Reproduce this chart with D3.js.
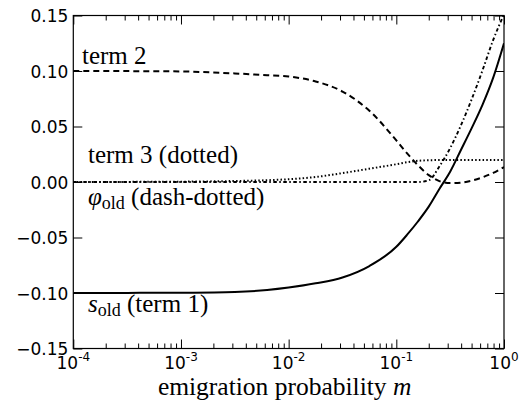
<!DOCTYPE html>
<html>
<head>
<meta charset="utf-8">
<script src="https://cdn.jsdelivr.net/npm/d3@7"></script>
<style>
  body { margin: 0; background: #fff; }
  svg { display: block; }
</style>
</head>
<body>
<svg id="chart" width="521" height="408"></svg>
<script>
// Emigration probability m (log-spaced sample points)
const mValues = [0.0001, 0.000316, 0.001, 0.00316, 0.00631, 0.01, 0.0178, 0.0316, 0.0562, 0.1,
                 0.126, 0.158, 0.2, 0.251, 0.316, 0.398, 0.501, 0.631, 0.794, 1];
// s_old (term 1), solid
const sOld   = [-0.1000, -0.0999, -0.0997, -0.0990, -0.0973, -0.0951, -0.0913, -0.0860, -0.0757, -0.0584,
                -0.0475, -0.0358, -0.0222, -0.0063, 0.0092, 0.0288, 0.0485, 0.0695, 0.0940, 0.1250];
// term 2, dashed
const term2  = [0.1000, 0.0999, 0.0996, 0.0978, 0.0962, 0.0950, 0.0906, 0.0815, 0.0642, 0.0375,
                0.0258, 0.0153, 0.0062, 0.0008, -0.0010, -0.0006, 0.0012, 0.0042, 0.0082, 0.0135];
// term 3, dotted
const term3  = [0.0000, 0.0001, 0.0003, 0.0009, 0.0016, 0.0025, 0.0045, 0.0080, 0.0120, 0.0160,
                0.0178, 0.0191, 0.0196, 0.0198, 0.0198, 0.0198, 0.0198, 0.0198, 0.0198, 0.0198];
// phi_old, dash-dotted
const phiOld = [0, 0, 0, 0, 0, 0, 0, 0, 0, 0,
                0, 0, 0.0015, 0.0140, 0.0305, 0.0510, 0.0745, 0.1005, 0.1280, 0.1510];

const yTicks = [-0.15, -0.10, -0.05, 0.00, 0.05, 0.10, 0.15];
const xTickExponents = [-4, -3, -2, -1, 0];

const W = 521, H = 408;
const margin = { left: 73.3, right: 17, top: 15.5, bottom: 59.5 };
const svg = d3.select("#chart");

const x = d3.scaleLog().domain([1e-4, 1]).range([margin.left, W - margin.right]);
const y = d3.scaleLinear().domain([-0.15, 0.15]).range([H - margin.bottom, margin.top]);

const sansFont = "'DejaVu Sans', sans-serif";
const serifFont = "'Liberation Serif', serif";

// Clip region for the curves
svg.append("clipPath").attr("id", "plot-clip")
  .append("rect")
  .attr("x", x.range()[0]).attr("y", y.range()[1])
  .attr("width", x.range()[1] - x.range()[0])
  .attr("height", y.range()[0] - y.range()[1]);

// Curves
const series = [
  { values: term3,  dash: "1.5,2.2", width: 2 },
  { values: phiOld, dash: "3.5,2.5,1.5,2.5", width: 1.9 },
  { values: term2,  dash: "6,4", width: 2 },
  { values: sOld,   dash: null, width: 2 }
];
const line = d3.line().curve(d3.curveMonotoneX);
const curves = svg.append("g").attr("clip-path", "url(#plot-clip)");
series.forEach(s => {
  curves.append("path")
    .attr("d", line(mValues.map((m, i) => [x(m), y(s.values[i])])))
    .attr("fill", "none")
    .attr("stroke", "#000")
    .attr("stroke-width", s.width)
    .attr("stroke-dasharray", s.dash);
});

// Tick values
const majorX = xTickExponents.map(e => Math.pow(10, e));
const minorX = [];
for (let e = -4; e < 0; e++) for (let k = 2; k <= 9; k++) minorX.push(k * Math.pow(10, e));

function styleAxis(g) {
  g.select(".domain").remove();
  g.selectAll(".tick line").attr("stroke", "#000").attr("stroke-width", 1);
}

const yBottom = y.range()[0], yTop = y.range()[1];
const xLeft = x.range()[0], xRight = x.range()[1];

// Bottom axis: major + minor ticks pointing inward
svg.append("g").attr("transform", `translate(0,${yBottom})`)
  .call(d3.axisBottom(x).tickValues(majorX).tickSize(-9).tickFormat(""))
  .call(styleAxis);
svg.append("g").attr("transform", `translate(0,${yBottom})`)
  .call(d3.axisBottom(x).tickValues(minorX).tickSize(-5).tickFormat(""))
  .call(styleAxis);
// Top axis
svg.append("g").attr("transform", `translate(0,${yTop})`)
  .call(d3.axisTop(x).tickValues(majorX).tickSize(-9).tickFormat(""))
  .call(styleAxis);
svg.append("g").attr("transform", `translate(0,${yTop})`)
  .call(d3.axisTop(x).tickValues(minorX).tickSize(-5).tickFormat(""))
  .call(styleAxis);

// Left axis with labels
const yFmt = d => (d < 0 ? "\u2212" : "") + Math.abs(d).toFixed(2);
svg.append("g").attr("transform", `translate(${xLeft},0)`)
  .call(d3.axisLeft(y).tickValues(yTicks).tickSize(-9).tickPadding(5).tickFormat(yFmt))
  .call(styleAxis)
  .call(g => g.selectAll(".tick text")
    .attr("font-family", sansFont).attr("font-size", 17).attr("fill", "#000").attr("dy", "0.36em"));
// Right axis, ticks only
svg.append("g").attr("transform", `translate(${xRight},0)`)
  .call(d3.axisRight(y).tickValues(yTicks).tickSize(-9).tickFormat(""))
  .call(styleAxis);

// X tick labels as 10 with superscript exponent
const xLabels = svg.append("g");
xTickExponents.forEach(e => {
  const t = xLabels.append("text")
    .attr("x", x(Math.pow(10, e)))
    .attr("y", 368.5)
    .attr("text-anchor", "middle")
    .attr("font-family", sansFont)
    .attr("font-size", 17)
    .attr("fill", "#000");
  t.append("tspan").text("10");
  t.append("tspan").attr("font-size", 12).attr("dy", -8).text(String(e));
});

// Plot frame
svg.append("rect")
  .attr("x", xLeft).attr("y", yTop)
  .attr("width", xRight - xLeft).attr("height", yBottom - yTop)
  .attr("fill", "none").attr("stroke", "#000").attr("stroke-width", 1.2);

// Curve annotations
function label(xp, yp) {
  return svg.append("text").attr("x", xp).attr("y", yp)
    .attr("font-family", serifFont).attr("font-size", 25).attr("fill", "#000");
}
label(82, 64).text("term 2");
label(88, 163).text("term 3 (dotted)");
const phiLab = label(88, 205);
phiLab.append("tspan").attr("font-style", "italic").text("\u03C6");
phiLab.append("tspan").attr("font-size", 18).attr("dy", 4).text("old");
phiLab.append("tspan").attr("dy", -4).text(" (dash-dotted)");
const sLab = label(88, 312);
sLab.append("tspan").attr("font-style", "italic").text("s");
sLab.append("tspan").attr("font-size", 18).attr("dy", 4).text("old");
sLab.append("tspan").attr("dy", -4).text(" (term 1)");

// X axis title
const xTitle = svg.append("text")
  .attr("x", (xLeft + xRight) / 2 - 4).attr("y", 395)
  .attr("text-anchor", "middle")
  .attr("font-family", serifFont).attr("font-size", 25.5).attr("fill", "#000");
xTitle.append("tspan").text("emigration probability ");
xTitle.append("tspan").attr("font-style", "italic").text("m");
</script>
</body>
</html>
